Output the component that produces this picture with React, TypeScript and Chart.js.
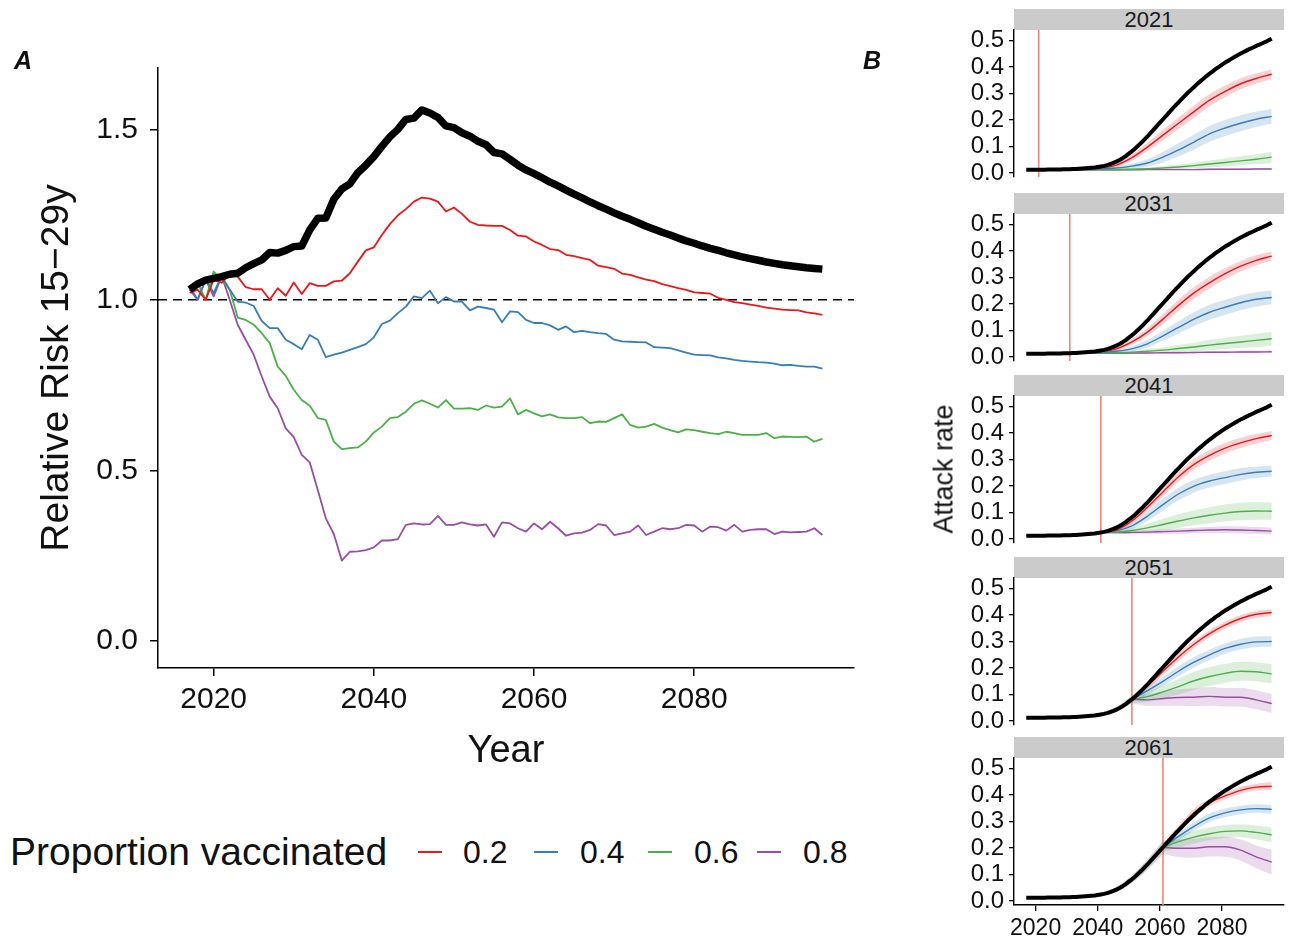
import React, { useEffect, useRef } from "react";
import { Chart, registerables } from "chart.js";
Chart.register(...registerables);

const FONT = '"Liberation Sans", Arial, Helvetica, sans-serif';
Chart.defaults.font.family = FONT;
Chart.defaults.color = "#111";

// ---------------- Panel A data ----------------
const YEARS = [
  2017, 2018, 2019, 2020, 2021, 2022, 2023, 2024, 2025, 2026,
  2027, 2028, 2029, 2030, 2031, 2032, 2033, 2034, 2035, 2036,
  2037, 2038, 2039, 2040, 2041, 2042, 2043, 2044, 2045, 2046,
  2047, 2048, 2049, 2050, 2051, 2052, 2053, 2054, 2055, 2056,
  2057, 2058, 2059, 2060, 2061, 2062, 2063, 2064, 2065, 2066,
  2067, 2068, 2069, 2070, 2071, 2072, 2073, 2074, 2075, 2076,
  2077, 2078, 2079, 2080, 2081, 2082, 2083, 2084, 2085, 2086,
  2087, 2088, 2089, 2090, 2091, 2092, 2093, 2094, 2095, 2096,
];

const RR_BASE = [
  1.030, 1.047, 1.058, 1.063, 1.068, 1.075, 1.078, 1.094, 1.106, 1.117,
  1.139, 1.137, 1.145, 1.156, 1.158, 1.205, 1.239, 1.240, 1.295, 1.325,
  1.340, 1.373, 1.395, 1.420, 1.450, 1.478, 1.500, 1.529, 1.533, 1.557,
  1.548, 1.535, 1.510, 1.505, 1.490, 1.480, 1.465, 1.455, 1.432, 1.428,
  1.412, 1.395, 1.381, 1.370, 1.358, 1.345, 1.334, 1.322, 1.310, 1.299,
  1.287, 1.276, 1.266, 1.255, 1.245, 1.236, 1.226, 1.216, 1.207, 1.198,
  1.190, 1.181, 1.173, 1.166, 1.158, 1.151, 1.145, 1.138, 1.132, 1.126,
  1.121, 1.116, 1.111, 1.107, 1.103, 1.100, 1.097, 1.094, 1.092, 1.090,
];
const RR_P02 = [
  1.020, 1.030, 1.000, 1.060, 1.050, 1.075, 1.068, 1.037, 1.031, 1.031,
  1.000, 1.034, 1.012, 1.051, 1.017, 1.049, 1.041, 1.041, 1.054, 1.056,
  1.078, 1.112, 1.145, 1.154, 1.190, 1.222, 1.248, 1.266, 1.288, 1.300,
  1.297, 1.288, 1.259, 1.271, 1.252, 1.229, 1.220, 1.218, 1.217, 1.217,
  1.205, 1.188, 1.186, 1.171, 1.161, 1.149, 1.146, 1.132, 1.128, 1.122,
  1.117, 1.100, 1.096, 1.091, 1.077, 1.073, 1.066, 1.059, 1.055, 1.046,
  1.040, 1.034, 1.029, 1.022, 1.020, 1.018, 1.006, 1.000, 0.993, 0.990,
  0.986, 0.982, 0.977, 0.974, 0.971, 0.970, 0.969, 0.963, 0.960, 0.956,
];
const RR_P04 = [
  1.039, 1.000, 1.060, 1.020, 1.070, 1.030, 0.995, 0.992, 0.982, 0.938,
  0.917, 0.917, 0.883, 0.870, 0.855, 0.897, 0.883, 0.832, 0.839, 0.845,
  0.853, 0.861, 0.870, 0.890, 0.929, 0.939, 0.961, 0.980, 1.010, 1.005,
  1.027, 0.990, 1.008, 0.995, 0.995, 0.969, 0.980, 0.976, 0.971, 0.934,
  0.966, 0.964, 0.941, 0.932, 0.932, 0.925, 0.912, 0.922, 0.905, 0.909,
  0.905, 0.902, 0.900, 0.883, 0.878, 0.877, 0.876, 0.875, 0.861, 0.860,
  0.858, 0.852, 0.845, 0.839, 0.838, 0.837, 0.831, 0.828, 0.824, 0.821,
  0.819, 0.817, 0.816, 0.813, 0.808, 0.809, 0.806, 0.804, 0.804, 0.798,
];
const RR_P06 = [
  1.030, 1.050, 1.000, 1.083, 1.060, 1.030, 0.948, 0.941, 0.927, 0.902,
  0.873, 0.804, 0.777, 0.736, 0.706, 0.689, 0.653, 0.648, 0.584, 0.562,
  0.565, 0.567, 0.584, 0.611, 0.628, 0.653, 0.656, 0.672, 0.695, 0.705,
  0.695, 0.684, 0.706, 0.681, 0.681, 0.682, 0.677, 0.690, 0.684, 0.687,
  0.711, 0.664, 0.677, 0.667, 0.658, 0.664, 0.655, 0.653, 0.653, 0.656,
  0.638, 0.643, 0.642, 0.653, 0.664, 0.633, 0.625, 0.628, 0.636, 0.625,
  0.618, 0.611, 0.620, 0.618, 0.613, 0.609, 0.606, 0.613, 0.609, 0.604,
  0.604, 0.604, 0.609, 0.594, 0.599, 0.598, 0.597, 0.599, 0.584, 0.592,
];
const RR_P08 = [
  1.030, 1.000, 1.060, 1.010, 1.070, 1.000, 0.927, 0.883, 0.839, 0.775,
  0.716, 0.682, 0.623, 0.597, 0.545, 0.523, 0.442, 0.359, 0.313, 0.235,
  0.261, 0.262, 0.266, 0.274, 0.294, 0.294, 0.298, 0.340, 0.344, 0.341,
  0.342, 0.366, 0.340, 0.340, 0.347, 0.341, 0.338, 0.341, 0.305, 0.347,
  0.344, 0.330, 0.320, 0.344, 0.327, 0.349, 0.330, 0.308, 0.315, 0.317,
  0.325, 0.342, 0.338, 0.310, 0.315, 0.320, 0.338, 0.310, 0.320, 0.330,
  0.327, 0.330, 0.340, 0.338, 0.320, 0.335, 0.333, 0.323, 0.340, 0.320,
  0.325, 0.327, 0.327, 0.313, 0.320, 0.318, 0.319, 0.320, 0.330, 0.310,
];

const X_TICKS = [2020, 2040, 2060, 2080];
const Y_TICKS_A = [0, 0.5, 1.0, 1.5];
const REF_LINE = 1.0;
const LEGEND_TITLE = "Proportion vaccinated";
const LEGEND_LABELS = ["0.2", "0.4", "0.6", "0.8"];

// ---------------- Panel B data ----------------
const AR_BASE = [
  0.012, 0.012, 0.012, 0.012, 0.012, 0.012, 0.012, 0.013, 0.013, 0.013,
  0.013, 0.013, 0.014, 0.014, 0.014, 0.015, 0.015, 0.016, 0.017, 0.018,
  0.019, 0.020, 0.021, 0.023, 0.025, 0.027, 0.030, 0.034, 0.038, 0.043,
  0.049, 0.056, 0.064, 0.073, 0.082, 0.092, 0.103, 0.114, 0.126, 0.138,
  0.151, 0.164, 0.177, 0.190, 0.203, 0.216, 0.229, 0.242, 0.255, 0.267,
  0.279, 0.291, 0.303, 0.314, 0.325, 0.336, 0.346, 0.356, 0.366, 0.375,
  0.384, 0.393, 0.401, 0.409, 0.417, 0.424, 0.431, 0.438, 0.445, 0.451,
  0.457, 0.463, 0.469, 0.474, 0.480, 0.485, 0.490, 0.495, 0.501, 0.507,
];
const AR_TICKS = [0, 0.1, 0.2, 0.3, 0.4, 0.5];
const FACET_YEARS = [2021, 2031, 2041, 2051, 2061];

const PRE_YEARS = [2017, 2021, 2026, 2031, 2036, 2041, 2046, 2051, 2056, 2061];
const PRE_LO = [0.009, 0.009, 0.010, 0.011, 0.014, 0.019, 0.033, 0.068, 0.118, 0.178];
const PRE_HI = [0.015, 0.015, 0.016, 0.017, 0.022, 0.031, 0.053, 0.096, 0.158, 0.228];

// facet 2021
const AR21_YEARS = [2021, 2026, 2031, 2036, 2041, 2046, 2051, 2056, 2061, 2066, 2071, 2076, 2081, 2086, 2091, 2096];
const AR21_P02 = [0.012, 0.012, 0.013, 0.015, 0.019, 0.030, 0.058, 0.098, 0.143, 0.188, 0.232, 0.275, 0.308, 0.337, 0.357, 0.373];
const AR21_P02_LO = [0.010, 0.010, 0.010, 0.011, 0.014, 0.022, 0.046, 0.082, 0.123, 0.166, 0.209, 0.252, 0.286, 0.316, 0.337, 0.355];
const AR21_P02_HI = [0.014, 0.014, 0.016, 0.019, 0.024, 0.038, 0.070, 0.114, 0.163, 0.210, 0.255, 0.298, 0.330, 0.358, 0.377, 0.391];
const AR21_P04 = [0.012, 0.012, 0.012, 0.013, 0.015, 0.019, 0.026, 0.038, 0.060, 0.087, 0.117, 0.148, 0.170, 0.188, 0.203, 0.214];
const AR21_P04_LO = [0.010, 0.010, 0.010, 0.010, 0.011, 0.013, 0.016, 0.024, 0.040, 0.062, 0.089, 0.118, 0.140, 0.158, 0.174, 0.186];
const AR21_P04_HI = [0.014, 0.014, 0.014, 0.016, 0.019, 0.025, 0.036, 0.052, 0.080, 0.112, 0.145, 0.178, 0.200, 0.218, 0.232, 0.242];
const AR21_P06 = [0.012, 0.012, 0.012, 0.012, 0.012, 0.013, 0.014, 0.016, 0.019, 0.023, 0.028, 0.034, 0.040, 0.046, 0.052, 0.060];
const AR21_P06_LO = [0.010, 0.010, 0.010, 0.010, 0.010, 0.010, 0.011, 0.012, 0.013, 0.015, 0.018, 0.021, 0.025, 0.029, 0.033, 0.038];
const AR21_P06_HI = [0.014, 0.014, 0.014, 0.014, 0.014, 0.016, 0.018, 0.021, 0.026, 0.032, 0.039, 0.047, 0.055, 0.063, 0.071, 0.080];
const AR21_P08 = [0.012, 0.012, 0.012, 0.012, 0.012, 0.012, 0.012, 0.013, 0.013, 0.013, 0.013, 0.014, 0.014, 0.014, 0.015, 0.015];
const AR21_P08_LO = [0.010, 0.010, 0.010, 0.010, 0.010, 0.010, 0.010, 0.011, 0.011, 0.011, 0.011, 0.011, 0.011, 0.011, 0.012, 0.012];
const AR21_P08_HI = [0.014, 0.014, 0.014, 0.014, 0.014, 0.014, 0.014, 0.015, 0.015, 0.016, 0.016, 0.017, 0.017, 0.018, 0.019, 0.019];

// facet 2031
const AR31_YEARS = [2031, 2036, 2041, 2046, 2051, 2056, 2061, 2066, 2071, 2076, 2081, 2086, 2091, 2096];
const AR31_P02 = [0.014, 0.016, 0.020, 0.031, 0.057, 0.094, 0.143, 0.195, 0.242, 0.281, 0.315, 0.343, 0.365, 0.381];
const AR31_P02_LO = [0.012, 0.013, 0.016, 0.024, 0.046, 0.079, 0.124, 0.174, 0.220, 0.259, 0.294, 0.323, 0.346, 0.364];
const AR31_P02_HI = [0.016, 0.019, 0.024, 0.038, 0.068, 0.109, 0.162, 0.216, 0.264, 0.303, 0.336, 0.363, 0.384, 0.398];
const AR31_P04 = [0.014, 0.015, 0.017, 0.022, 0.031, 0.050, 0.080, 0.112, 0.143, 0.169, 0.188, 0.205, 0.218, 0.225];
const AR31_P04_LO = [0.012, 0.012, 0.013, 0.016, 0.021, 0.036, 0.061, 0.089, 0.117, 0.141, 0.160, 0.177, 0.191, 0.199];
const AR31_P04_HI = [0.016, 0.018, 0.021, 0.028, 0.041, 0.064, 0.099, 0.135, 0.169, 0.197, 0.216, 0.233, 0.245, 0.251];
const AR31_P06 = [0.014, 0.014, 0.015, 0.016, 0.018, 0.022, 0.026, 0.032, 0.038, 0.045, 0.051, 0.057, 0.063, 0.069];
const AR31_P06_LO = [0.012, 0.012, 0.012, 0.012, 0.013, 0.014, 0.016, 0.019, 0.022, 0.026, 0.030, 0.034, 0.038, 0.043];
const AR31_P06_HI = [0.016, 0.016, 0.018, 0.020, 0.023, 0.030, 0.036, 0.045, 0.054, 0.064, 0.072, 0.080, 0.088, 0.095];
const AR31_P08 = [0.014, 0.014, 0.014, 0.014, 0.015, 0.015, 0.016, 0.016, 0.017, 0.018, 0.018, 0.019, 0.019, 0.020];
const AR31_P08_LO = [0.012, 0.012, 0.012, 0.012, 0.012, 0.012, 0.013, 0.013, 0.013, 0.014, 0.014, 0.014, 0.014, 0.015];
const AR31_P08_HI = [0.016, 0.016, 0.016, 0.017, 0.018, 0.019, 0.020, 0.021, 0.022, 0.023, 0.024, 0.025, 0.025, 0.026];

// facet 2041
const AR41_YEARS = [2041, 2046, 2051, 2056, 2061, 2066, 2071, 2076, 2081, 2086, 2091, 2096];
const AR41_P02 = [0.025, 0.034, 0.068, 0.120, 0.178, 0.235, 0.282, 0.316, 0.343, 0.363, 0.379, 0.391];
const AR41_P02_LO = [0.022, 0.028, 0.058, 0.106, 0.161, 0.216, 0.262, 0.296, 0.323, 0.344, 0.361, 0.374];
const AR41_P02_HI = [0.028, 0.040, 0.078, 0.134, 0.195, 0.254, 0.302, 0.336, 0.363, 0.382, 0.397, 0.408];
const AR41_P04 = [0.025, 0.031, 0.050, 0.086, 0.130, 0.170, 0.200, 0.219, 0.232, 0.244, 0.252, 0.256];
const AR41_P04_LO = [0.022, 0.025, 0.038, 0.068, 0.108, 0.146, 0.176, 0.195, 0.208, 0.221, 0.230, 0.235];
const AR41_P04_HI = [0.028, 0.037, 0.062, 0.104, 0.152, 0.194, 0.224, 0.243, 0.256, 0.267, 0.274, 0.277];
const AR41_P06 = [0.025, 0.026, 0.032, 0.042, 0.055, 0.068, 0.080, 0.090, 0.098, 0.104, 0.106, 0.105];
const AR41_P06_LO = [0.022, 0.021, 0.022, 0.026, 0.033, 0.042, 0.052, 0.060, 0.066, 0.071, 0.073, 0.072];
const AR41_P06_HI = [0.028, 0.031, 0.042, 0.058, 0.077, 0.094, 0.108, 0.120, 0.130, 0.137, 0.139, 0.138];
const AR41_P08 = [0.025, 0.024, 0.025, 0.026, 0.028, 0.030, 0.032, 0.034, 0.035, 0.034, 0.032, 0.030];
const AR41_P08_LO = [0.022, 0.020, 0.019, 0.019, 0.019, 0.020, 0.021, 0.022, 0.022, 0.021, 0.019, 0.017];
const AR41_P08_HI = [0.028, 0.028, 0.031, 0.033, 0.037, 0.040, 0.043, 0.046, 0.048, 0.047, 0.045, 0.043];

// facet 2051
const AR51_YEARS = [2051, 2056, 2061, 2066, 2071, 2076, 2081, 2086, 2091, 2096];
const AR51_P02 = [0.082, 0.132, 0.188, 0.242, 0.290, 0.330, 0.362, 0.387, 0.403, 0.410];
const AR51_P02_LO = [0.072, 0.120, 0.174, 0.227, 0.275, 0.316, 0.348, 0.374, 0.390, 0.397];
const AR51_P02_HI = [0.092, 0.144, 0.202, 0.257, 0.305, 0.344, 0.376, 0.400, 0.416, 0.423];
const AR51_P04 = [0.082, 0.115, 0.150, 0.188, 0.222, 0.250, 0.274, 0.290, 0.299, 0.300];
const AR51_P04_LO = [0.070, 0.100, 0.133, 0.169, 0.202, 0.230, 0.254, 0.270, 0.279, 0.280];
const AR51_P04_HI = [0.094, 0.130, 0.167, 0.207, 0.242, 0.270, 0.294, 0.310, 0.319, 0.320];
const AR51_P06 = [0.082, 0.092, 0.110, 0.130, 0.152, 0.168, 0.180, 0.188, 0.186, 0.178];
const AR51_P06_LO = [0.068, 0.072, 0.085, 0.100, 0.118, 0.133, 0.144, 0.152, 0.150, 0.142];
const AR51_P06_HI = [0.096, 0.112, 0.135, 0.160, 0.186, 0.203, 0.216, 0.224, 0.222, 0.214];
const AR51_P08 = [0.082, 0.080, 0.085, 0.089, 0.090, 0.093, 0.090, 0.090, 0.080, 0.066];
const AR51_P08_LO = [0.066, 0.058, 0.058, 0.058, 0.057, 0.058, 0.055, 0.054, 0.044, 0.030];
const AR51_P08_HI = [0.098, 0.102, 0.112, 0.120, 0.123, 0.128, 0.125, 0.126, 0.116, 0.102];

// facet 2061
const AR61_YEARS = [2061, 2066, 2071, 2076, 2081, 2086, 2091, 2096];
const AR61_P02 = [0.203, 0.270, 0.333, 0.372, 0.397, 0.418, 0.430, 0.433];
const AR61_P02_LO = [0.190, 0.255, 0.318, 0.358, 0.384, 0.405, 0.417, 0.418];
const AR61_P02_HI = [0.216, 0.285, 0.348, 0.386, 0.410, 0.431, 0.443, 0.448];
const AR61_P04 = [0.203, 0.244, 0.282, 0.314, 0.333, 0.344, 0.349, 0.346];
const AR61_P04_LO = [0.188, 0.228, 0.266, 0.298, 0.317, 0.328, 0.333, 0.329];
const AR61_P04_HI = [0.218, 0.260, 0.298, 0.330, 0.349, 0.360, 0.365, 0.363];
const AR61_P06 = [0.203, 0.224, 0.241, 0.254, 0.263, 0.265, 0.259, 0.250];
const AR61_P06_LO = [0.185, 0.202, 0.217, 0.230, 0.239, 0.241, 0.233, 0.222];
const AR61_P06_HI = [0.221, 0.246, 0.265, 0.278, 0.287, 0.289, 0.285, 0.278];
const AR61_P08 = [0.203, 0.199, 0.199, 0.205, 0.205, 0.192, 0.167, 0.147];
const AR61_P08_LO = [0.178, 0.166, 0.163, 0.168, 0.167, 0.152, 0.124, 0.100];
const AR61_P08_HI = [0.228, 0.232, 0.235, 0.242, 0.243, 0.232, 0.210, 0.194];

const FACET_TABLE = [
  { year: FACET_YEARS[0], years: AR21_YEARS, mid: [AR21_P02, AR21_P04, AR21_P06, AR21_P08], lo: [AR21_P02_LO, AR21_P04_LO, AR21_P06_LO, AR21_P08_LO], hi: [AR21_P02_HI, AR21_P04_HI, AR21_P06_HI, AR21_P08_HI] },
  { year: FACET_YEARS[1], years: AR31_YEARS, mid: [AR31_P02, AR31_P04, AR31_P06, AR31_P08], lo: [AR31_P02_LO, AR31_P04_LO, AR31_P06_LO, AR31_P08_LO], hi: [AR31_P02_HI, AR31_P04_HI, AR31_P06_HI, AR31_P08_HI] },
  { year: FACET_YEARS[2], years: AR41_YEARS, mid: [AR41_P02, AR41_P04, AR41_P06, AR41_P08], lo: [AR41_P02_LO, AR41_P04_LO, AR41_P06_LO, AR41_P08_LO], hi: [AR41_P02_HI, AR41_P04_HI, AR41_P06_HI, AR41_P08_HI] },
  { year: FACET_YEARS[3], years: AR51_YEARS, mid: [AR51_P02, AR51_P04, AR51_P06, AR51_P08], lo: [AR51_P02_LO, AR51_P04_LO, AR51_P06_LO, AR51_P08_LO], hi: [AR51_P02_HI, AR51_P04_HI, AR51_P06_HI, AR51_P08_HI] },
  { year: FACET_YEARS[4], years: AR61_YEARS, mid: [AR61_P02, AR61_P04, AR61_P06, AR61_P08], lo: [AR61_P02_LO, AR61_P04_LO, AR61_P06_LO, AR61_P08_LO], hi: [AR61_P02_HI, AR61_P04_HI, AR61_P06_HI, AR61_P08_HI] },
];

// ---------------- styles / layout ----------------
const SERIES_COLORS = ["#E41A1C", "#377EB8", "#4DAF4A", "#984EA3"];
const BAND_COLORS = ["rgba(228,26,28,0.2)", "rgba(55,126,184,0.2)", "rgba(77,175,74,0.2)", "rgba(152,78,163,0.2)"];
const PRE_COLOR = "rgba(115,85,115,0.28)";
const VLINE_COLOR = "#F4837A";
const X_MIN = 2013.05;
const X_MAX = 2099.95;
const FACET_PANEL_TOP = [30, 214, 396, 578, 758];
const FACET_PANEL_H = 147;
const STRIP_H = 21;

const xy = (xs: number[], ys: number[]) => xs.map((x, i) => ({ x, y: ys[i] }));

const refLinePlugin = {
  id: "refline",
  beforeDatasetsDraw(chart: any) {
    const { ctx, chartArea } = chart;
    const y = chart.scales.y.getPixelForValue(REF_LINE);
    ctx.save();
    ctx.strokeStyle = "#000";
    ctx.lineWidth = 1.6;
    ctx.setLineDash([9, 6]);
    ctx.beginPath();
    ctx.moveTo(chartArea.left, y);
    ctx.lineTo(chartArea.right, y);
    ctx.stroke();
    ctx.restore();
  },
};

const vlinePlugin = {
  id: "vline",
  beforeDatasetsDraw(chart: any, _args: any, opts: any) {
    const { ctx, chartArea } = chart;
    const x = chart.scales.x.getPixelForValue(opts.value);
    ctx.save();
    ctx.strokeStyle = VLINE_COLOR;
    ctx.lineWidth = 1.6;
    ctx.beginPath();
    ctx.moveTo(x, chartArea.top);
    ctx.lineTo(x, chartArea.bottom);
    ctx.stroke();
    ctx.restore();
  },
};

function PanelA() {
  const ref = useRef<HTMLCanvasElement>(null);
  useEffect(() => {
    const series = [
      { d: RR_BASE, c: "#000", w: 7.5 },
      { d: RR_P02, c: SERIES_COLORS[0], w: 1.8 },
      { d: RR_P04, c: SERIES_COLORS[1], w: 1.8 },
      { d: RR_P06, c: SERIES_COLORS[2], w: 1.8 },
      { d: RR_P08, c: SERIES_COLORS[3], w: 1.8 },
    ];
    const chart = new Chart(ref.current as HTMLCanvasElement, {
      type: "line",
      data: {
        datasets: series.map((s) => ({
          data: xy(YEARS, s.d),
          borderColor: s.c,
          borderWidth: s.w,
          pointRadius: 0,
          fill: false,
          tension: 0,
          borderJoinStyle: "round",
        })),
      },
      options: {
        responsive: false,
        animation: false,
        devicePixelRatio: 1,
        events: [],
        layout: { padding: { top: 68, right: 26, left: 0, bottom: 0 } },
        plugins: { legend: { display: false }, tooltip: { enabled: false } },
        scales: {
          x: {
            type: "linear",
            min: X_MIN,
            max: X_MAX,
            afterBuildTicks: (s: any) => { s.ticks = X_TICKS.map((v) => ({ value: v })); },
            afterFit: (s: any) => { s.height = 112; },
            grid: { display: true, drawOnChartArea: false, drawTicks: true, tickLength: 8, color: "#000", lineWidth: 1.5 },
            border: { display: true, color: "#000", width: 1.5 },
            ticks: { color: "#111", font: { size: 30, family: FONT }, padding: 6, maxRotation: 0, autoSkip: false, callback: (v: any) => String(v) },
            title: { display: true, text: "Year", color: "#111", font: { size: 38, family: FONT, lineHeight: 1.2 }, padding: { top: 0, bottom: 6 } },
          },
          y: {
            type: "linear",
            min: -0.08,
            max: 1.68,
            afterBuildTicks: (s: any) => { s.ticks = Y_TICKS_A.map((v) => ({ value: v })); },
            afterFit: (s: any) => { s.width = 158; },
            grid: { display: true, drawOnChartArea: false, drawTicks: true, tickLength: 8, color: "#000", lineWidth: 1.5 },
            border: { display: true, color: "#000", width: 1.5 },
            ticks: { color: "#111", font: { size: 30, family: FONT }, padding: 12, autoSkip: false, callback: (v: any) => Number(v).toFixed(1) },
            title: { display: true, text: "Relative Risk 15−29y", color: "#111", font: { size: 39, family: FONT, lineHeight: 1.2 }, padding: { top: 34, bottom: 0 } },
          },
        },
      } as any,
      plugins: [refLinePlugin],
    } as any);
    return () => chart.destroy();
  }, []);
  return (
    <canvas ref={ref} width={880} height={780} style={{ position: "absolute", left: 0, top: 0, width: 880, height: 780 }} />
  );
}

function Facet({ k }: { k: number }) {
  const ref = useRef<HTMLCanvasElement>(null);
  const last = k === FACET_TABLE.length - 1;
  const canvasTop = FACET_PANEL_TOP[k] - 20;
  const canvasH = 20 + FACET_PANEL_H + (last ? 40 : 20);
  useEffect(() => {
    const f = FACET_TABLE[k];
    const datasets: any[] = [];
    datasets.push({ data: xy(YEARS, AR_BASE), borderColor: "#000", borderWidth: 4, pointRadius: 0, fill: false, borderJoinStyle: "round" });
    f.mid.forEach((m, j) =>
      datasets.push({ data: xy(f.years, m), borderColor: SERIES_COLORS[j], borderWidth: 1.4, pointRadius: 0, fill: false, cubicInterpolationMode: "monotone" })
    );
    f.hi.forEach((h, j) => {
      const loIndex = datasets.length + 1;
      datasets.push({ data: xy(f.years, h), borderColor: "rgba(0,0,0,0)", borderWidth: 0, pointRadius: 0, fill: loIndex, backgroundColor: BAND_COLORS[j], cubicInterpolationMode: "monotone" });
      datasets.push({ data: xy(f.years, f.lo[j]), borderColor: "rgba(0,0,0,0)", borderWidth: 0, pointRadius: 0, fill: false, cubicInterpolationMode: "monotone" });
    });
    const preYears = PRE_YEARS.filter((y) => y <= f.year);
    const preLoIndex = datasets.length + 1;
    datasets.push({ data: xy(preYears, PRE_HI.slice(0, preYears.length)), borderColor: "rgba(0,0,0,0)", borderWidth: 0, pointRadius: 0, fill: preLoIndex, backgroundColor: PRE_COLOR, cubicInterpolationMode: "monotone" });
    datasets.push({ data: xy(preYears, PRE_LO.slice(0, preYears.length)), borderColor: "rgba(0,0,0,0)", borderWidth: 0, pointRadius: 0, fill: false, cubicInterpolationMode: "monotone" });

    const chart = new Chart(ref.current as HTMLCanvasElement, {
      type: "line",
      data: { datasets },
      options: {
        responsive: false,
        animation: false,
        devicePixelRatio: 1,
        events: [],
        layout: { padding: { top: 20, right: 6, left: 0, bottom: last ? 0 : 20 } },
        plugins: { legend: { display: false }, tooltip: { enabled: false }, vline: { value: f.year } },
        scales: {
          x: {
            type: "linear",
            display: last,
            min: X_MIN,
            max: X_MAX,
            afterBuildTicks: (s: any) => { s.ticks = X_TICKS.map((v) => ({ value: v })); },
            afterFit: (s: any) => { s.height = last ? 40 : 0; },
            grid: { display: true, drawOnChartArea: false, drawTicks: true, tickLength: 6, color: "#000", lineWidth: 1.3 },
            border: { display: true, color: "#000", width: 1.4 },
            ticks: { color: "#111", font: { size: 23, family: FONT }, padding: 4, maxRotation: 0, autoSkip: false, callback: (v: any) => String(v) },
          },
          y: {
            type: "linear",
            min: -0.015,
            max: 0.54,
            afterBuildTicks: (s: any) => { s.ticks = AR_TICKS.map((v) => ({ value: v })); },
            afterFit: (s: any) => { s.width = 114; },
            grid: { display: true, drawOnChartArea: false, drawTicks: true, tickLength: 5, color: "#000", lineWidth: 1.3 },
            border: { display: true, color: "#000", width: 1.4 },
            ticks: { color: "#111", font: { size: 24, family: FONT, lineHeight: 1.0 }, padding: 5, autoSkip: false, callback: (v: any) => Number(v).toFixed(1) },
          },
        },
      } as any,
      plugins: [vlinePlugin],
    } as any);
    return () => chart.destroy();
  }, [k]);
  return (
    <>
      <div
        style={{
          position: "absolute",
          left: 1014,
          top: FACET_PANEL_TOP[k] - STRIP_H,
          width: 270,
          height: STRIP_H,
          background: "#CBCBCB",
          color: "#1a1a1a",
          fontSize: 22,
          lineHeight: `${STRIP_H + 1}px`,
          textAlign: "center",
          fontFamily: FONT,
          overflow: "hidden",
        }}
      >
        {FACET_TABLE[k].year}
      </div>
      <canvas ref={ref} width={390} height={canvasH} style={{ position: "absolute", left: 900, top: canvasTop, width: 390, height: canvasH }} />
    </>
  );
}

export default function App() {
  const legendLines = [418, 534, 648, 757];
  const legendTexts = [463, 580, 694, 803];
  return (
    <div style={{ position: "absolute", left: 0, top: 0, width: 1290, height: 941, background: "#fff", overflow: "hidden", fontFamily: FONT, color: "#111" }}>
      <PanelA />
      {FACET_TABLE.map((f, k) => (
        <Facet key={f.year} k={k} />
      ))}
      <div style={{ position: "absolute", left: 14, top: 46, fontSize: 25, fontWeight: "bold", fontStyle: "italic", lineHeight: "28px" }}>A</div>
      <div style={{ position: "absolute", left: 863, top: 46, fontSize: 25, fontWeight: "bold", fontStyle: "italic", lineHeight: "28px" }}>B</div>
      <div
        style={{
          position: "absolute",
          left: 944,
          top: 469,
          fontSize: 27,
          lineHeight: "27px",
          whiteSpace: "nowrap",
          transform: "translate(-50%, -50%) rotate(-90deg)",
        }}
      >
        Attack rate
      </div>
      <div style={{ position: "absolute", left: 10, top: 833, fontSize: 39, lineHeight: "38px", whiteSpace: "nowrap" }}>{LEGEND_TITLE}</div>
      {LEGEND_LABELS.map((lab, i) => (
        <React.Fragment key={lab}>
          <div style={{ position: "absolute", left: legendLines[i], top: 851, width: 24, height: 2.2, background: SERIES_COLORS[i] }} />
          <div style={{ position: "absolute", left: legendTexts[i], top: 836, fontSize: 32, lineHeight: "32px", whiteSpace: "nowrap" }}>{lab}</div>
        </React.Fragment>
      ))}
    </div>
  );
}
